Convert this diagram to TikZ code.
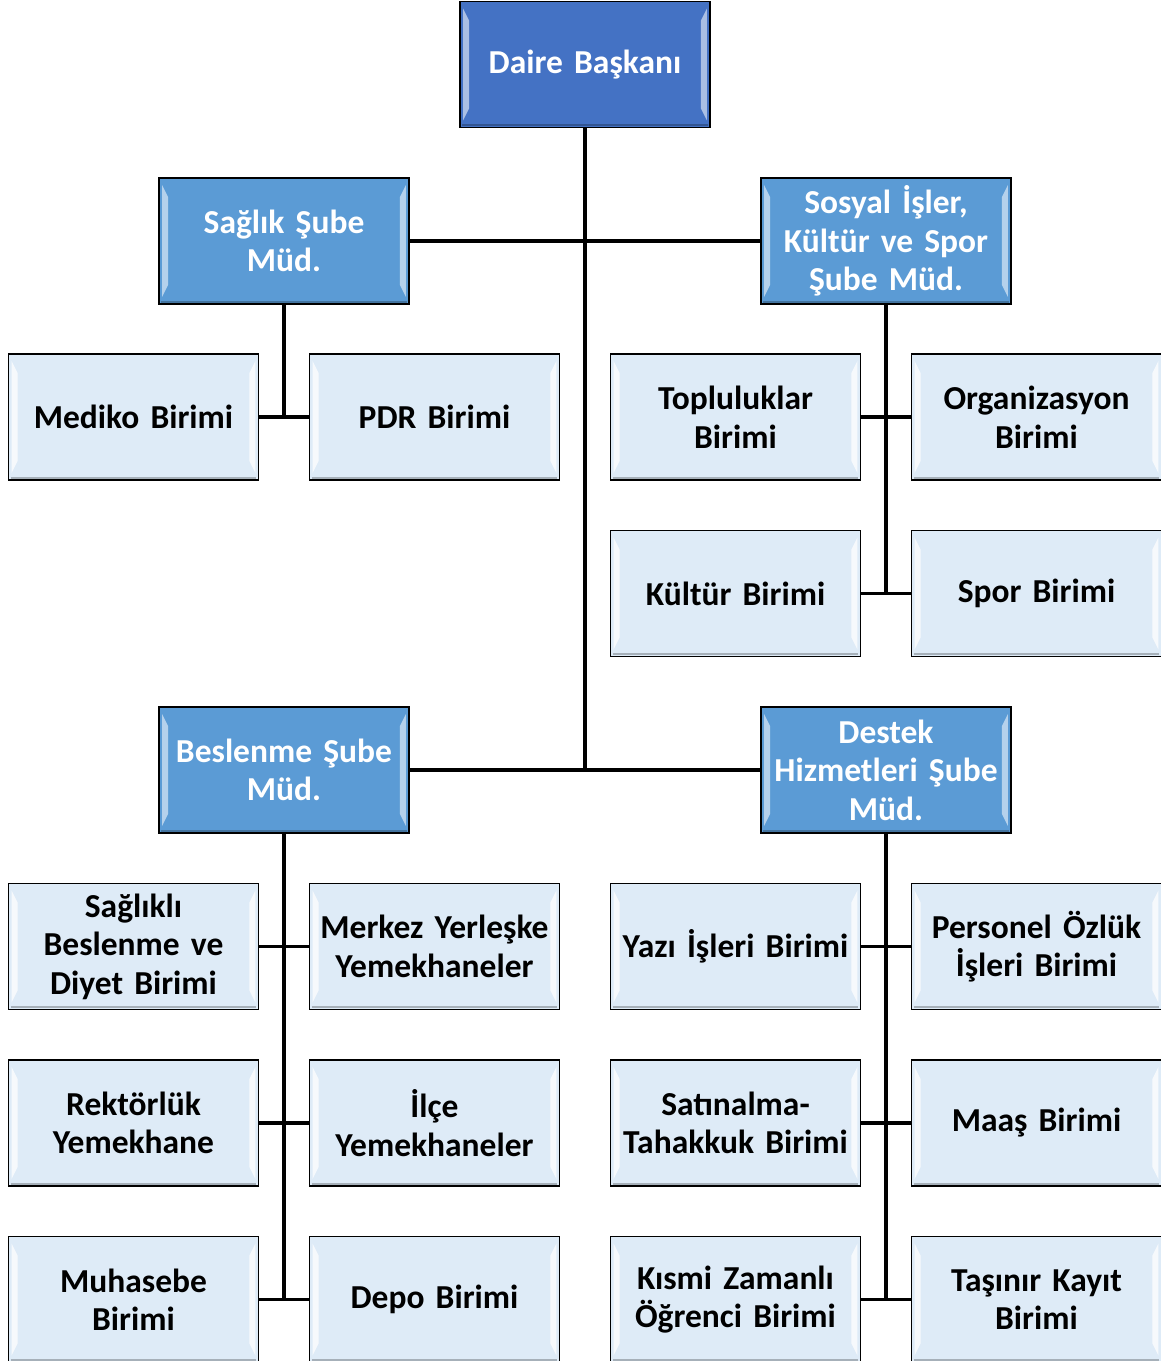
\documentclass[tikz,border=0pt]{standalone}
\usepackage{fontspec}
\setmainfont{Carlito}
\usetikzlibrary{calc}
\definecolor{topblue}{HTML}{4472C4}
\definecolor{midblue}{HTML}{5B9BD5}
\definecolor{leafblue}{HTML}{DEEBF7}
\tikzset{
  box/.style={draw=black, line width=1.6pt, minimum width=250pt, minimum height=126pt,
    inner sep=0pt, align=center, text width=250pt, font=\fontsize{33.5}{38.5}\selectfont\bfseries},
  topbox/.style={box, fill=topblue, text=white},
  midbox/.style={box, fill=midblue, text=white},
  leafbox/.style={box, fill=leafblue, text=black},
  link/.style={draw=black, line width=3.6pt},
}
\newcommand{\bev}[2]{%
  \fill[white, opacity=#2] ($(#1.north west)+(4,8)$) -- ($(#1.north west)+(10,20)$) -- ($(#1.south west)+(10,-20)$) -- ($(#1.south west)+(4,-8)$) -- cycle;
  \fill[white, opacity=#2] ($(#1.north east)+(-4,8)$) -- ($(#1.north east)+(-10,20)$) -- ($(#1.south east)+(-10,-20)$) -- ($(#1.south east)+(-4,-8)$) -- cycle;
  \draw[black, opacity=0.25, line width=2pt] ($(#1.south west)+(3,-3)$) -- ($(#1.south east)+(-3,-3)$);
}
\begin{document}
\begin{tikzpicture}[x=1pt, y=-1pt]
\useasboundingbox (0,0) rectangle (1161,1361);
\clip (0,0) rectangle (1161,1361);
% nodes
\node[topbox]  (top)   at (585,64.5)  {Daire Başkanı};
\node[midbox]  (saglik) at (284,241)  {Sağlık Şube\\Müd.};
\node[midbox]  (sosyal) at (886,241)  {Sosyal İşler,\\Kültür ve Spor\\Şube Müd.};
\node[leafbox] (mediko) at (133.5,417) {Mediko Birimi};
\node[leafbox] (pdr)    at (434.5,417) {PDR Birimi};
\node[leafbox] (toplu)  at (735.5,417) {Topluluklar\\Birimi};
\node[leafbox] (organ)  at (1036.5,417) {Organizasyon\\Birimi};
\node[leafbox] (kultur) at (735.5,593.5) {Kültür Birimi};
\node[leafbox] (spor)   at (1036.5,593.5) {Spor Birimi};
\node[midbox]  (besl)   at (284,770) {Beslenme Şube\\Müd.};
\node[midbox]  (destek) at (886,770) {Destek\\Hizmetleri Şube\\Müd.};
\node[leafbox] (diyet)  at (133.5,946.5) {Sağlıklı\\Beslenme ve\\Diyet Birimi};
\node[leafbox] (merkez) at (434.5,946.5) {Merkez Yerleşke\\Yemekhaneler};
\node[leafbox] (rektor) at (133.5,1123) {Rektörlük\\Yemekhane};
\node[leafbox] (ilce)   at (434.5,1123) {İlçe\\Yemekhaneler};
\node[leafbox] (muhas)  at (133.5,1299.5) {Muhasebe\\Birimi};
\node[leafbox] (depo)   at (434.5,1299.5) {Depo Birimi};
\node[leafbox] (yazi)   at (735.5,946.5) {Yazı İşleri Birimi};
\node[leafbox] (perso)  at (1036.5,946.5) {Personel Özlük\\İşleri Birimi};
\node[leafbox] (satin)  at (735.5,1123) {Satınalma-\\Tahakkuk Birimi};
\node[leafbox] (maas)   at (1036.5,1123) {Maaş Birimi};
\node[leafbox] (kismi)  at (735.5,1299.5) {Kısmi Zamanlı\\Öğrenci Birimi};
\node[leafbox] (tasin)  at (1036.5,1299.5) {Taşınır Kayıt\\Birimi};
% bevels
\foreach \n in {top,saglik,sosyal,besl,destek}{\bev{\n}{0.55}}
\foreach \n in {mediko,pdr,toplu,organ,kultur,spor,diyet,merkez,rektor,ilce,muhas,depo,yazi,perso,satin,maas,kismi,tasin}{\bev{\n}{0.75}}
% connectors
\coordinate (j2) at (top.south |- besl.east);
\draw[link] (top.south) -- (j2);
\draw[link] (saglik.east) -- (sosyal.west);
\draw[link] (besl.east) -- (destek.west);
\draw[link] (saglik.south) -- (saglik.south |- mediko.east);
\draw[link] (mediko.east) -- (pdr.west);
\draw[link] (sosyal.south) -- (sosyal.south |- kultur.east);
\draw[link] (toplu.east) -- (organ.west);
\draw[link] (kultur.east) -- (spor.west);
\draw[link] (besl.south) -- (besl.south |- muhas.east);
\draw[link] (diyet.east) -- (merkez.west);
\draw[link] (rektor.east) -- (ilce.west);
\draw[link] (muhas.east) -- (depo.west);
\draw[link] (destek.south) -- (destek.south |- kismi.east);
\draw[link] (yazi.east) -- (perso.west);
\draw[link] (satin.east) -- (maas.west);
\draw[link] (kismi.east) -- (tasin.west);
\end{tikzpicture}
\end{document}
